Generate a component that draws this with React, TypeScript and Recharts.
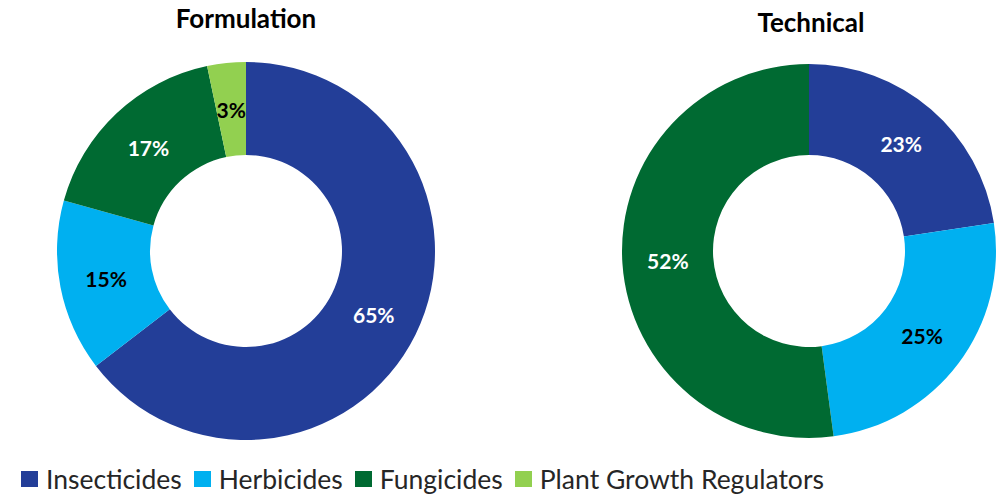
import React from 'react';
import { PieChart, Pie, Cell } from 'recharts';

const categories = ['Insecticides', 'Herbicides', 'Fungicides', 'Plant Growth Regulators'];
const colors = ['#233E98', '#00B0F0', '#006A32', '#92D050'];
const formulationValues = [64.6, 14.7, 17.4, 3.3];
const technicalValues = [22.6, 25.3, 52.1];
const labelColorsFormulation = ['#FFFFFF', '#000000', '#FFFFFF', '#000000'];
const labelColorsTechnical = ['#FFFFFF', '#000000', '#FFFFFF'];

const FONT = 'Lato, "Open Sans", sans-serif';

const formulationData = formulationValues.map((v, i) => ({ name: categories[i], value: v }));
const technicalData = technicalValues.map((v, i) => ({ name: categories[i], value: v }));

const RAD = Math.PI / 180;

function makeLabel(labelColors: string[]) {
  return (props: any) => {
    const { cx, cy, midAngle, innerRadius, outerRadius, percent, index } = props;
    const r = (innerRadius + outerRadius) / 2;
    const x = cx + r * Math.cos(-midAngle * RAD);
    const y = cy + r * Math.sin(-midAngle * RAD);
    return (
      <text
        x={x}
        y={y}
        fill={labelColors[index]}
        textAnchor="middle"
        dominantBaseline="central"
        fontFamily={FONT}
        fontWeight={700}
        fontSize={21}
      >
        {`${Math.round(percent * 100)}%`}
      </text>
    );
  };
}

export default function App() {
  return (
    <div style={{ position: 'absolute', left: 0, top: 0, width: 999, height: 495, background: '#fff', fontFamily: FONT }}>
      <div style={{ position: 'absolute', left: 96, top: 2, width: 300, textAlign: 'center', fontWeight: 700, fontSize: 26, color: '#000' }}>
        Formulation
      </div>
      <div style={{ position: 'absolute', left: 661, top: 6, width: 300, textAlign: 'center', fontWeight: 700, fontSize: 26, color: '#000' }}>
        Technical
      </div>
      <div style={{ position: 'absolute', left: 0, top: 0 }}>
        <PieChart width={999} height={495} margin={{ top: 0, right: 0, bottom: 0, left: 0 }}>
          <Pie
            data={formulationData}
            dataKey="value"
            nameKey="name"
            cx={246}
            cy={251}
            innerRadius={96}
            outerRadius={189}
            startAngle={90}
            endAngle={-270}
            stroke="none"
            labelLine={false}
            label={makeLabel(labelColorsFormulation)}
            isAnimationActive={false}
          >
            {formulationData.map((d, i) => (
              <Cell key={d.name} fill={colors[i]} />
            ))}
          </Pie>
          <Pie
            data={technicalData}
            dataKey="value"
            nameKey="name"
            cx={809}
            cy={251}
            innerRadius={96}
            outerRadius={187}
            startAngle={90}
            endAngle={-270}
            stroke="none"
            labelLine={false}
            label={makeLabel(labelColorsTechnical)}
            isAnimationActive={false}
          >
            {technicalData.map((d, i) => (
              <Cell key={d.name} fill={colors[i]} />
            ))}
          </Pie>
        </PieChart>
      </div>
      <div style={{ position: 'absolute', left: 21, top: 463, display: 'flex', alignItems: 'center', fontSize: 26.5, color: '#262626', whiteSpace: 'nowrap' }}>
        {categories.map((c, i) => (
          <div key={c} style={{ display: 'flex', alignItems: 'center', marginRight: 12 }}>
            <span style={{ display: 'inline-block', width: 17, height: 16, background: colors[i], marginRight: 8 }} />
            <span>{c}</span>
          </div>
        ))}
      </div>
    </div>
  );
}
